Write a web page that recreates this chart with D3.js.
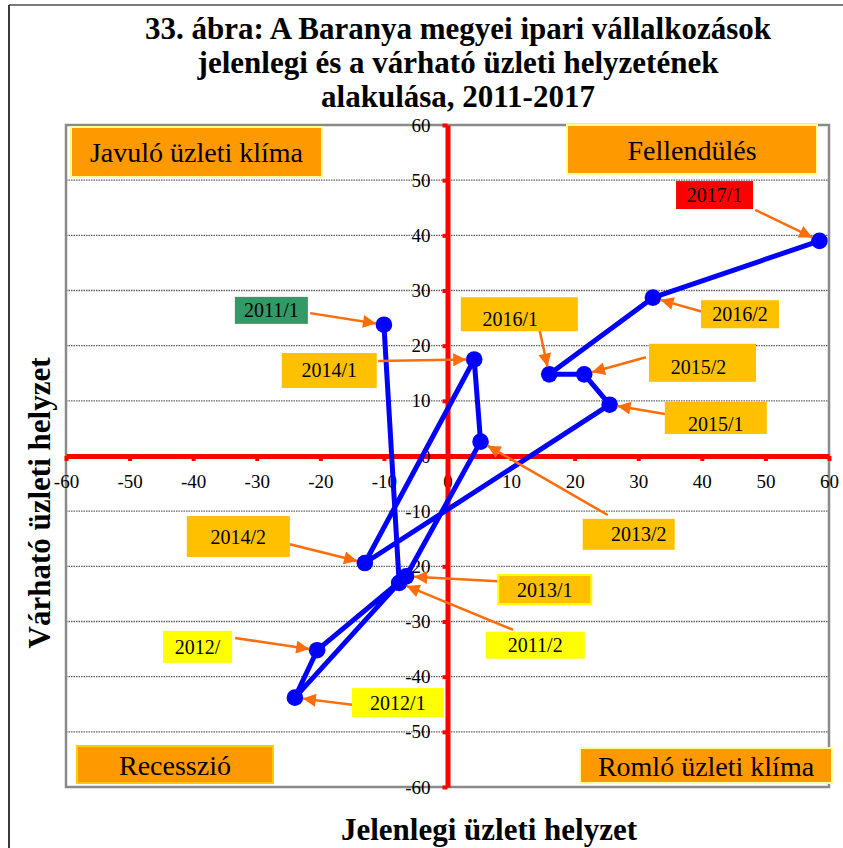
<!DOCTYPE html>
<html>
<head>
<meta charset="utf-8">
<script src="https://cdn.jsdelivr.net/npm/d3@7/dist/d3.min.js"></script>
<style>
  html, body { margin: 0; padding: 0; background: #fff; }
  svg { display: block; font-family: "Liberation Serif", "Times New Roman", serif; }
  svg text { font-family: "Liberation Serif", "Times New Roman", serif; }
</style>
</head>
<body>
<svg id="chart" width="843" height="848"></svg>
<script>
// Periods (half-years) and survey balances
const periods  = ["2011/1","2011/2","2012/1","2012/","2013/1","2013/2","2014/1","2014/2","2015/1","2015/2","2016/1","2016/2","2017/1"];
const current  = [-10, -7.6, -24, -20.5, -6.5, 5.2, 4.2, -13, 25.5, 21.5, 16, 32.3, 58.5];   // Jelenlegi üzleti helyzet
const expected = [23.8, -23, -43.8, -35.2, -21.8, 2.6, 17.5, -19.4, 9.3, 14.8, 14.8, 28.7, 39];  // Várható üzleti helyzet

const axisTicks = [-60, -50, -40, -30, -20, -10, 0, 10, 20, 30, 40, 50, 60];
const gridTicks = [-50, -40, -30, -20, -10, 10, 20, 30, 40, 50];

const titleLines = [
  "33. ábra: A Baranya megyei ipari vállalkozások",
  "jelenlegi és a várható üzleti helyzetének",
  "alakulása, 2011-2017"
];
const xTitle = "Jelenlegi üzleti helyzet";
const yTitle = "Várható üzleti helyzet";

const quadrantNames = ["Javuló üzleti klíma", "Fellendülés", "Recesszió", "Romló üzleti klíma"];

// Callout layout: box centre and arrow tail in data units, box size in px
const callouts = [
  { label: "2011/1", cx: -27.7, cy: 26.4, w: 73,  h: 27, tx: -21.6, ty: 25.9, fill: "#339966" },
  { label: "2011/2", cx: 13.8,  cy: -34.3, w: 99, h: 27, tx: 10.3,  ty: -31.5, fill: "#ffff00" },
  { label: "2012/1", cx: -7.8,  cy: -44.7, w: 92, h: 29, tx: -15.0, ty: -45.1, fill: "#ffff00" },
  { label: "2012/",  cx: -39.3, cy: -34.6, w: 69, h: 32, tx: -33.4, ty: -33.0, fill: "#ffff00" },
  { label: "2013/1", cx: 15.3,  cy: -24.2, w: 93, h: 29, tx: 7.9,   ty: -22.7, fill: "#ffc000", stroke: "#ffff00" },
  { label: "2013/2", cx: 28.5,  cy: -14.2, w: 92, h: 31, tx: 25.2,  ty: -10.7, fill: "#ffc000", dx: 10 },
  { label: "2014/1", cx: -18.6, cy: 15.5,  w: 95, h: 35, tx: -10.9, ty: 17.2,  fill: "#ffc000" },
  { label: "2014/2", cx: -32.9, cy: -14.6, w: 103, h: 41, tx: -24.8, ty: -16.0, fill: "#ffc000" },
  { label: "2015/1", cx: 42.2,  cy: 6.9,   w: 102, h: 32, tx: 34.2,  ty: 7.6,   fill: "#ffc000", dy: 6 },
  { label: "2015/2", cx: 40.1,  cy: 16.9,  w: 107, h: 38, tx: 31.2,  ty: 17.9,  fill: "#ffc000", dx: -4, dy: 4 },
  { label: "2016/1", cx: 11.3,  cy: 25.7,  w: 117, h: 34, tx: 14.5,  ty: 22.7,  fill: "#ffc000", dx: -9, dy: 5 },
  { label: "2016/2", cx: 46.0,  cy: 25.7,  w: 78,  h: 28, tx: 40.2,  ty: 26.1,  fill: "#ffc000" },
  { label: "2017/1", cx: 42.0,  cy: 47.3,  w: 77,  h: 28, tx: 48.4,  ty: 44.6,  fill: "#ff0000" }
];

const svg = d3.select("#chart");
const plot = { left: 66, right: 829, top: 125, bottom: 787 };

const x = d3.scaleLinear().domain([-60, 60]).range([plot.left, plot.right]);
const y = d3.scaleLinear().domain([-60, 60]).range([plot.bottom, plot.top]);

// Outer frame (top and left edges)
svg.append("line").attr("x1", 9).attr("y1", 5).attr("x2", 843).attr("y2", 5)
  .attr("stroke", "#7a7a7a").attr("stroke-width", 2);
svg.append("line").attr("x1", 9).attr("y1", 5).attr("x2", 9).attr("y2", 848)
  .attr("stroke", "#3a3a3a").attr("stroke-width", 2);

// Title
svg.append("g").selectAll("text").data(titleLines).join("text")
  .attr("x", 458).attr("y", (d, i) => 39 + i * 34)
  .attr("text-anchor", "middle").attr("font-size", 31).attr("font-weight", "bold")
  .text(d => d);

// Horizontal dotted gridlines
svg.append("g").selectAll("line").data(gridTicks).join("line")
  .attr("x1", plot.left).attr("x2", plot.right)
  .attr("y1", d => y(d)).attr("y2", d => y(d))
  .attr("stroke", "#606060").attr("stroke-width", 1.3).attr("stroke-dasharray", "1.5,1");

// Plot border
svg.append("rect")
  .attr("x", plot.left).attr("y", plot.top)
  .attr("width", plot.right - plot.left).attr("height", plot.bottom - plot.top)
  .attr("fill", "none").attr("stroke", "#8a8a8a").attr("stroke-width", 2.5);

// Red crossing axes with tick labels
const fmt = d => String(d);
const xAxis = d3.axisBottom(x).tickValues(axisTicks).tickFormat(fmt).tickSize(5).tickSizeOuter(0).tickPadding(14);
const yAxis = d3.axisLeft(y).tickValues(axisTicks).tickFormat(fmt).tickSize(5).tickSizeOuter(0).tickPadding(12);

const gx = svg.append("g").attr("transform", `translate(0,${y(0)})`).call(xAxis);
const gy = svg.append("g").attr("transform", `translate(${x(0)},0)`).call(yAxis);
[gx, gy].forEach(g => {
  g.attr("font-family", null).attr("font-size", null);
  g.select(".domain").attr("stroke", "#ff0000").attr("stroke-width", 5);
  g.selectAll(".tick line").attr("stroke", "#ff0000").attr("stroke-width", 4);
  g.selectAll(".tick text").attr("fill", "#000").style("font-size", "19px");
});

// Quadrant captions
const quadrants = [
  { name: quadrantNames[0], x0: 71,  y0: 127, w: 251, h: 50, stroke: "#ffff99" },
  { name: quadrantNames[1], x0: 567, y0: 125, w: 250, h: 49, stroke: "#ffff99" },
  { name: quadrantNames[2], x0: 77,  y0: 746, w: 196, h: 37, stroke: "#ffcc00" },
  { name: quadrantNames[3], x0: 580, y0: 748, w: 252, h: 35, stroke: "#ffff99" }
];
const gq = svg.append("g").selectAll("g").data(quadrants).join("g");
gq.append("rect")
  .attr("x", d => d.x0).attr("y", d => d.y0).attr("width", d => d.w).attr("height", d => d.h)
  .attr("fill", "#ff9900").attr("stroke", d => d.stroke).attr("stroke-width", 2);
gq.append("text")
  .attr("x", d => d.x0 + d.w / 2).attr("y", d => d.y0 + d.h / 2 + 10)
  .attr("text-anchor", "middle").attr("font-size", 28).text(d => d.name);

// Trajectory line and markers
const pts = periods.map((p, i) => ({ p, cx: current[i], cy: expected[i] }));
svg.append("path").datum(pts)
  .attr("d", d3.line().x(d => x(d.cx)).y(d => y(d.cy)))
  .attr("fill", "none").attr("stroke", "#0000ff").attr("stroke-width", 5)
  .attr("stroke-linejoin", "round");
svg.append("g").selectAll("circle").data(pts).join("circle")
  .attr("cx", d => x(d.cx)).attr("cy", d => y(d.cy)).attr("r", 8.3)
  .attr("fill", "#0000ff");

// Arrowhead
svg.append("defs").append("marker")
  .attr("id", "head").attr("viewBox", "0 0 10 10").attr("refX", 10).attr("refY", 5)
  .attr("markerUnits", "userSpaceOnUse").attr("markerWidth", 16).attr("markerHeight", 13)
  .attr("orient", "auto")
  .append("path").attr("d", "M0,0 L10,5 L0,10 Z").attr("fill", "#ff6d0a");

// Callout boxes with arrows pointing to their period
const byPeriod = new Map(pts.map(d => [d.p, d]));
const gc = svg.append("g");
callouts.forEach(c => {
  const target = byPeriod.get(c.label);
  const sx = x(c.tx), sy = y(c.ty);
  const px = x(target.cx), py = y(target.cy);
  const len = Math.hypot(px - sx, py - sy);
  const stop = 8;
  const ex = px - (px - sx) / len * stop, ey = py - (py - sy) / len * stop;
  gc.append("line").attr("x1", sx).attr("y1", sy).attr("x2", ex).attr("y2", ey)
    .attr("stroke", "#ff6d0a").attr("stroke-width", 2.5).attr("marker-end", "url(#head)");
  const bx = x(c.cx), by = y(c.cy);
  gc.append("rect")
    .attr("x", bx - c.w / 2).attr("y", by - c.h / 2).attr("width", c.w).attr("height", c.h)
    .attr("fill", c.fill).attr("stroke", c.stroke || "none").attr("stroke-width", 2);
  gc.append("text")
    .attr("x", bx + (c.dx || 0)).attr("y", by + 7 + (c.dy || 0))
    .attr("text-anchor", "middle").attr("font-size", 20).text(c.label);
});

// Axis titles
svg.append("text").attr("x", 489).attr("y", 840)
  .attr("text-anchor", "middle").attr("font-size", 31).attr("font-weight", "bold").text(xTitle);
svg.append("text").attr("transform", "translate(50,503) rotate(-90)")
  .attr("text-anchor", "middle").attr("font-size", 31).attr("font-weight", "bold").text(yTitle);
</script>
</body>
</html>
